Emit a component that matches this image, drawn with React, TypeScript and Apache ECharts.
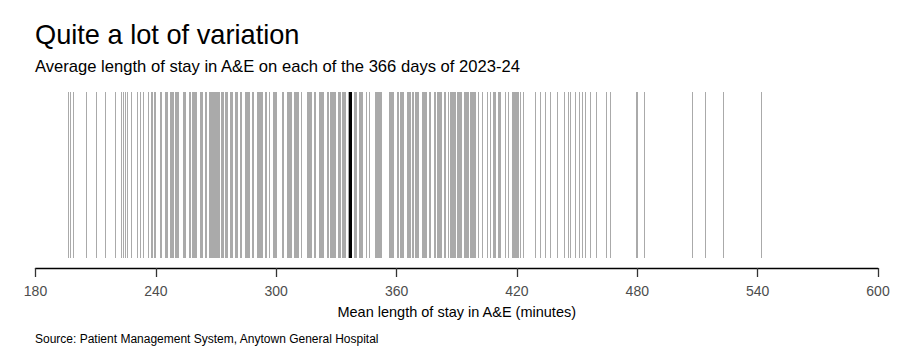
import React, { useEffect, useRef } from "react";
import * as echarts from "echarts";

// Mean length of stay (minutes) for each of the 366 days
const lowTail = [
  196.3, 197.2, 198.5, 205.0, 210.0, 214.4, 214.8, 219.6, 222.6, 223.8, 224.6,
  225.5, 227.5, 230.7, 232.1, 233.4, 236.2, 237.5, 238.3, 239.0, 239.6,
];
const band240 = [
  242.2, 242.5, 244.8, 245.1, 245.4, 246.9, 247.1, 247.4, 247.6, 247.9,
  248.1, 248.3, 248.5, 249.7, 250.0, 250.3, 250.6, 250.9, 253.6, 254.0,
  254.3, 256.4, 256.8, 258.1, 258.3, 258.6, 258.9, 259.1, 259.4, 259.7,
  259.9, 260.2, 261.9, 262.2, 262.5, 262.9, 263.2, 264.7, 265.1, 266.3,
  266.5, 266.8, 267.1, 267.3, 267.6, 267.8, 268.1, 268.4, 268.6, 268.9,
  269.2, 269.4, 269.7, 270.0, 270.2, 270.5, 270.8, 271.1, 271.4, 272.5,
  272.8, 273.1, 273.4, 274.7, 275.0, 275.4, 277.2, 277.5, 277.8, 278.1,
  279.7, 280.0, 280.3, 280.6, 282.1, 282.6, 284.6, 284.8, 285.0, 285.3,
  285.5, 285.7, 285.9, 286.2, 286.4, 288.0, 288.4, 290.5, 290.8, 291.1,
  291.4, 291.7,
];
const band300 = [
  292.2, 292.6, 293.0, 294.6, 295.1, 296.3, 298.4, 298.7, 299.0, 299.3,
  299.7, 300.0, 302.9, 303.3, 305.4, 305.6, 305.9, 306.1, 306.3, 306.6,
  306.8, 307.0, 307.3, 307.5, 309.1, 309.3, 309.6, 309.8, 310.1, 310.3,
  310.6, 310.8, 312.4, 315.4, 315.6, 315.9, 316.1, 316.3, 316.6, 316.8,
  317.0, 317.3, 317.5, 318.7, 319.1, 321.2, 321.4, 321.7, 321.9, 322.1,
  322.4, 322.6, 322.8, 323.1, 323.3, 325.4, 325.8, 327.0, 327.2, 327.5,
  327.7, 327.9, 328.2, 328.4, 328.6, 328.9, 329.1, 330.6, 330.9, 331.3,
  331.6, 332.8, 333.0, 333.2, 333.4, 333.7, 333.9, 334.1, 335.6, 336.3,
  336.6, 337.0, 337.3, 338.6, 338.8, 339.0, 339.2, 339.5, 339.7, 339.9,
  341.1, 341.6,
];
const band360 = [
  342.0, 342.5, 342.9, 344.9, 346.5, 349.4, 349.6, 349.8, 350.1, 350.3,
  350.5, 350.8, 351.0, 351.3, 351.5, 351.7, 352.0, 352.2, 352.4, 356.1,
  356.3, 356.6, 356.8, 357.0, 357.3, 357.5, 357.7, 358.0, 358.2, 360.3,
  360.7, 361.9, 362.2, 362.5, 362.9, 363.2, 365.2, 365.5, 365.8, 366.2,
  366.5, 367.7, 368.1, 369.4, 369.7, 370.0, 370.3, 370.6, 372.7, 372.9,
  373.2, 373.4, 373.6, 373.9, 374.1, 374.3, 374.6, 374.8, 376.0, 376.5,
  378.5, 379.0, 380.2, 380.4, 380.7, 380.9, 381.1, 381.4, 381.6, 381.8,
  382.1, 382.3, 383.5, 383.9, 385.5, 386.8, 387.0, 387.3, 387.5, 387.7,
  388.0, 388.2, 388.4, 388.7, 388.9, 390.2, 390.5, 390.8, 391.1, 391.4,
];
const band420 = [
  391.9, 392.3, 393.8, 394.0, 394.3, 394.5, 394.8, 395.0, 395.2, 395.5,
  395.8, 396.6, 396.8, 397.1, 397.3, 397.6, 397.9, 398.1, 398.4, 398.6,
  398.9, 400.6, 402.6, 405.1, 406.6, 408.3, 408.6, 409.0, 409.3, 410.4,
  410.7, 411.1, 411.4, 414.1, 415.5, 417.6, 417.8, 418.1, 418.3, 418.6,
  418.8, 419.1, 419.4, 419.6, 419.9, 420.5, 421.5, 423.0, 429.0, 431.5,
  434.0, 436.5, 440.0,
];
const highTail = [
  443.6, 445.5, 446.6, 448.8, 451.1, 452.3, 454.1, 456.4, 459.6, 464.3, 466.3,
  479.2, 479.7, 483.2, 507.1, 513.6, 522.9, 541.5,
];
const meanStay = 336.8;

const xTicks = { min: 180, max: 600, interval: 60 };

const TITLE = "Quite a lot of variation";
const SUBTITLE = "Average length of stay in A&E on each of the 366 days of 2023-24";
const X_NAME = "Mean length of stay in A&E (minutes)";
const SOURCE = "Source: Patient Management System, Anytown General Hospital";

const FONT = "'Liberation Sans', Arial, Helvetica, sans-serif";

export default function App() {
  const ref = useRef<HTMLDivElement>(null);

  useEffect(() => {
    document.body.style.margin = "0";
    if (!ref.current) return;
    const chart = echarts.init(ref.current, null, { renderer: "svg" });
    const days = [...lowTail, ...band240, ...band300, ...band360, ...band420, ...highTail];

    const rug = (color: string, width: number) => (params: any, api: any) => {
      const v = api.value(0);
      const bottom = api.coord([v, 0]);
      const top = api.coord([v, 1]);
      const x = width % 2 === 1 ? Math.round(bottom[0]) + 0.5 : Math.round(bottom[0]);
      return {
        type: "line",
        shape: { x1: x, y1: bottom[1], x2: x, y2: top[1] },
        style: { stroke: color, lineWidth: width },
      };
    };

    chart.setOption({
      animation: false,
      textStyle: { fontFamily: FONT },
      title: [
        {
          text: TITLE,
          left: 35,
          top: 21,
          padding: 0,
          textStyle: { fontSize: 27.2, fontWeight: "normal", color: "#000", fontFamily: FONT },
        },
        {
          text: SUBTITLE,
          left: 35,
          top: 58,
          padding: 0,
          textStyle: { fontSize: 16.6, fontWeight: "normal", color: "#000", fontFamily: FONT },
        },
        {
          text: SOURCE,
          left: 35,
          top: 333,
          padding: 0,
          textStyle: { fontSize: 12, fontWeight: "normal", color: "#000", fontFamily: FONT },
        },
      ],
      grid: { left: 35.5, right: 24, top: 92, bottom: 105, containLabel: false },
      xAxis: {
        type: "value",
        min: xTicks.min,
        max: xTicks.max,
        interval: xTicks.interval,
        offset: 10,
        splitLine: { show: false },
        axisLine: { show: true, onZero: false, lineStyle: { color: "#000", width: 1.3 } },
        axisTick: { show: true, length: 9, lineStyle: { color: "#333", width: 1.3 } },
        axisLabel: { fontSize: 14, color: "#4d4d4d", margin: 16, fontFamily: FONT },
        name: X_NAME,
        nameLocation: "middle",
        nameGap: 36,
        nameTextStyle: { fontSize: 14.5, color: "#000", fontFamily: FONT },
      },
      yAxis: { type: "value", min: 0, max: 1, show: false },
      series: [
        {
          type: "custom",
          renderItem: rug("#aaaaaa", 1),
          data: days.map((d) => [d]),
          encode: { x: 0 },
          silent: true,
        },
        {
          type: "custom",
          renderItem: rug("#000000", 3),
          data: [[meanStay]],
          encode: { x: 0 },
          silent: true,
        },
      ],
    });
    return () => chart.dispose();
  }, []);

  return <div ref={ref} style={{ width: 902, height: 363 }} />;
}
